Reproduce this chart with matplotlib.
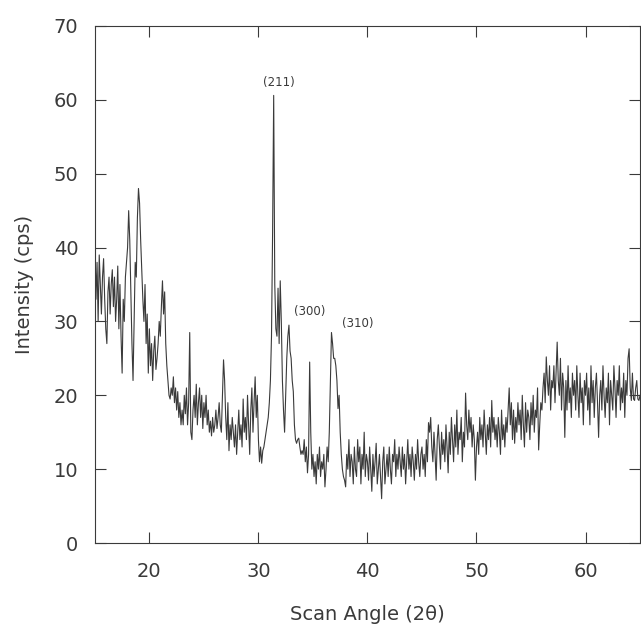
import numpy as np
import matplotlib
matplotlib.use("Agg")
import matplotlib.pyplot as plt

# scan grid: 15.0 .. 65.0 deg 2theta, 0.1 deg step
scan_start = 15.0
scan_step = 0.1

# intensity (cps), one row per degree
intensity = [
    41, 33, 38, 30, 39, 35, 31, 36, 38.5, 33,          # 15
    29, 27, 34, 36, 31, 35, 37, 32, 36, 30,            # 16
    33, 37.5, 29, 35, 28, 23, 33, 30, 36, 38,          # 17
    40, 45, 41, 34, 27, 22, 30, 38, 36, 44,            # 18
    48, 46, 41, 37, 33, 30, 35, 27, 31, 23,            # 19
    29, 24, 27, 22, 26, 28, 23.5, 25, 27, 30,          # 20
    28, 32, 35.5, 31, 34, 27, 24, 22, 20, 19.5,        # 21
    21, 20, 22.5, 19, 21, 18, 20.5, 17, 19, 16,        # 22
    18, 16, 20, 17.5, 21, 16, 19, 28.5, 15, 14,        # 23
    18, 20, 17, 21.5, 16, 19, 21, 17, 20, 15.5,        # 24
    19, 17, 20, 16, 18, 15, 16.5, 14.5, 17, 15,        # 25
    16, 18, 15.5, 17, 19, 16, 15, 20, 24.8, 22,        # 26
    17, 14, 19, 12.5, 16, 14, 17, 15, 13, 16,          # 27
    12, 15, 18, 14, 16, 13, 19.5, 15, 17, 14,          # 28
    20, 16, 12, 18, 21, 15, 19, 22.5, 17, 20,          # 29
    14, 11, 13, 10.8, 12.5, 13, 14, 15, 16, 17,        # 30
    19, 22, 28, 42, 60.6, 35, 29, 28, 34.5, 27,        # 31
    35.5, 30, 22, 18, 15, 20, 25, 28, 29.5, 26,        # 32
    25, 22, 20.5, 16, 14, 13.5, 14, 14.2, 13, 12,      # 33
    12.5, 12, 14, 11, 13, 9.5, 12, 24.5, 15, 10,       # 34
    12, 9, 11, 8, 12, 10, 13, 9, 11, 10,               # 35
    12, 7.6, 10, 13, 11, 15, 22, 28.5, 27, 25,         # 36
    25, 24, 22, 18.2, 20, 15, 12, 10, 9, 8.5,          # 37
    7.6, 12, 10, 14, 9, 12, 11, 8, 13, 10,             # 38
    9, 14, 11, 13, 8, 12, 10, 15, 9, 12,               # 39
    11, 8.5, 13, 10, 7, 12, 9, 11, 13.5, 8,            # 40
    10, 12, 9, 6, 11, 13, 8, 10, 12, 9,                # 41
    13, 10, 8, 12, 11, 14, 9, 12, 10, 13,              # 42
    11, 9, 13, 10, 12, 8, 11, 14, 10, 12,              # 43
    9, 13, 11, 8.5, 12, 10, 14, 11, 9, 12,             # 44
    13, 10, 12, 9, 14, 11, 16.3, 15, 17, 13,           # 45
    11, 15, 12, 8.5, 14, 16, 13, 10, 15, 12,           # 46
    14, 11, 16, 13, 9.5, 15, 12, 17, 14, 11,           # 47
    16, 13, 18, 12, 15, 14, 17, 11, 15, 13,            # 48
    20.3, 16, 14, 18, 15, 17, 13, 16, 14, 8.5,         # 49
    13, 15, 12, 17, 14, 16, 13, 18, 15, 12,            # 50
    16, 14, 17, 13, 19.3, 15, 17, 14, 16, 13,          # 51
    17, 15, 12, 18, 14, 16, 13, 17, 15, 18,            # 52
    21, 16, 19, 14, 18, 13.5, 17, 15, 19, 16,          # 53
    18, 14, 20, 16, 13, 19, 15, 18, 17, 14,            # 54
    19, 16, 20, 15, 18, 17, 21, 12.6, 16, 19,          # 55
    18, 21, 23, 19, 25.2, 22, 20, 24, 18, 22,          # 56
    21, 24, 19, 23, 27.2, 22, 20, 25, 18, 23,          # 57
    21, 14.3, 22, 18, 24, 19, 21, 17, 23, 20,          # 58
    22, 18, 24, 20, 17, 23, 19, 21, 16, 22,            # 59
    20, 23, 18, 21, 16, 24, 19, 22, 17, 21,            # 60
    23, 19, 14.3, 20, 22, 18, 24, 20, 17, 21,          # 61
    19, 23, 16, 22, 20, 18, 24, 21, 17, 22,            # 62
    20, 24, 18, 21, 19, 23, 17, 22, 20, 25,            # 63
    26.3, 21, 19.3, 23, 19.5, 19.3, 21, 22, 19.5, 19.3,  # 64
    20,                                                # 65
]

angle = scan_start + scan_step * np.arange(len(intensity))

peak_labels = ["(211)", "(300)", "(310)"]
peak_label_pos = [(31.9, 62.3), (34.7, 31.4), (39.1, 29.7)]

ink = "#3a3a3a"

fig = plt.figure(figsize=(6.41, 6.29), dpi=100)
ax = fig.add_axes([0.148, 0.1367, 0.8505, 0.822])

ax.plot(angle, intensity, color=ink, lw=0.8)

for lab, (x, y) in zip(peak_labels, peak_label_pos):
    ax.text(x, y, lab, ha="center", va="center", fontsize=8.5, color=ink)

ax.set_xlim(15, 65)
ax.set_ylim(0, 70)
ax.set_xticks(range(20, 61, 10))
ax.set_yticks(range(0, 71, 10))
ax.tick_params(direction="in", top=True, right=True, length=8, width=0.8,
               color=ink, labelcolor=ink, labelsize=14)
ax.tick_params(axis="y", pad=12)
ax.tick_params(axis="x", pad=14)
for s in ax.spines.values():
    s.set_color(ink)
    s.set_linewidth(0.8)

ax.set_xlabel("Scan Angle (2θ)", fontsize=14, color=ink, labelpad=17)
ax.set_ylabel("Intensity (cps)", fontsize=14, color=ink, labelpad=14)

fig.savefig("out.png", dpi=100)
